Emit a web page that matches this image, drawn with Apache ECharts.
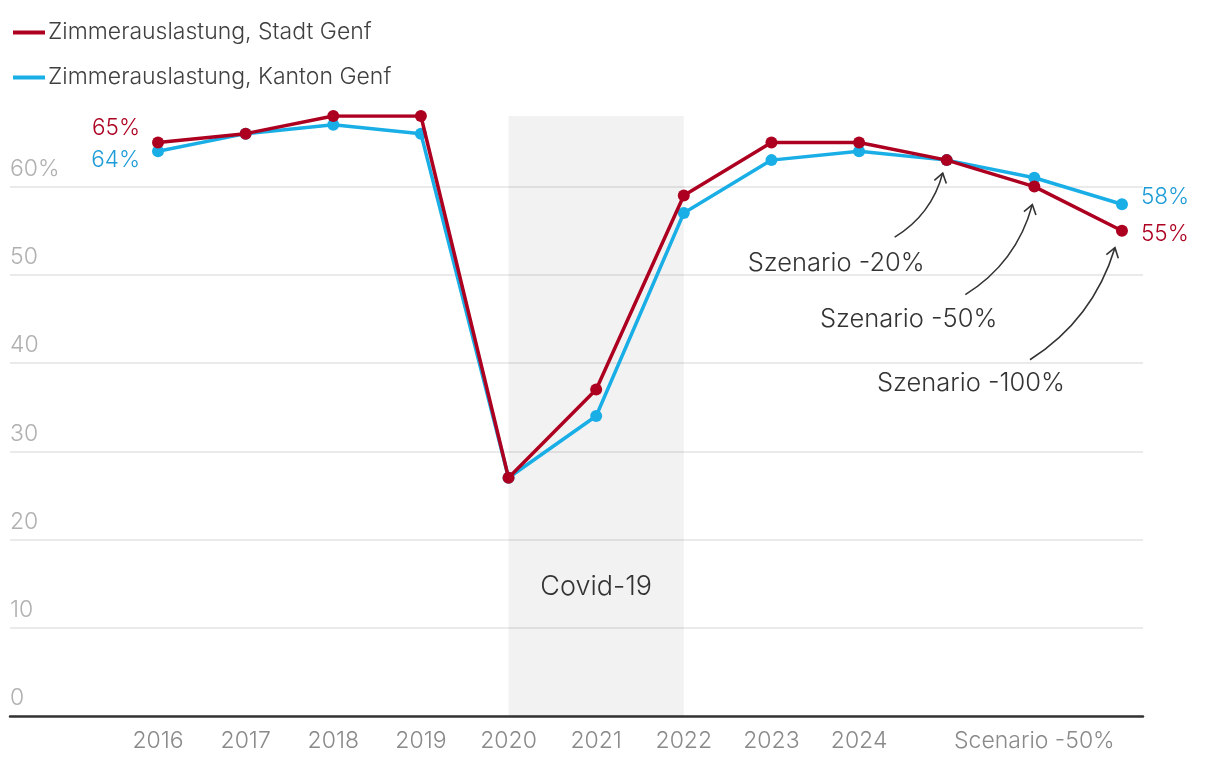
<!DOCTYPE html>
<html><head><meta charset="utf-8">
<script src="https://cdn.jsdelivr.net/npm/echarts@6/dist/echarts.min.js"></script>
<style>html,body{margin:0;padding:0;background:#fff}#c{width:1220px;height:768px}</style>
</head><body><div id="c"></div>
<script>
// ---- data ----
const categories = ['2016','2017','2018','2019','2020','2021','2022','2023','2024','Szenario -20%','Szenario -50%','Szenario -100%'];
const tickLabels = ['2016','2017','2018','2019','2020','2021','2022','2023','2024','','Scenario -50%',''];
const stadt  = [65,66,68,68,27,37,59,65,65,63,60,55];
const kanton = [64,66,67,66,27,34,57,63,64,63,61,58];
const yTicks = [0,10,20,30,40,50,60];
const seriesNames = ['Zimmerauslastung, Stadt Genf','Zimmerauslastung, Kanton Genf'];
const covidFrom = '2020', covidTo = '2022', covidLabel = 'Covid-19';
const noteCats = ['Szenario -20%','Szenario -50%','Szenario -100%'];
const noteTexts = ['Szenario -20%','Szenario -50%','Szenario -100%'];

// ---- layout / style ----
const RED = '#AD0021', BLUE = '#19AEE6', BLUE_TXT = '#1E9CD8';
const FONT = 'Inter, Roboto, "Noto Sans", sans-serif';
const FW = 300;
const xMin = -1.689, xMax = 11.24, yMax = 68;
const noteLayout = [
  {end:[-4,13], start:[-52,77], text:[-22,103], bow:16},
  {end:[-2,18], start:[-69,108], text:[-37,133], bow:22},
  {end:[-7,17], start:[-92,129], text:[-57,153], bow:26}
];

const idx = c => categories.indexOf(c);
const chart = echarts.init(document.getElementById('c'), null, {renderer:'canvas'});

function pts(arr){ return arr.map((v,i)=>[i,v]); }
const stadtData = pts(stadt).map((p,i)=>{
  if(i===0) return {value:p, label:{show:true, position:'left', distance:12, offset:[0,-14], color:RED}};
  if(i===stadt.length-1) return {value:p, label:{show:true, position:'right', distance:13, offset:[0,4], color:RED}};
  return p;
});
const kantonData = pts(kanton).map((p,i)=>{
  if(i===0) return {value:p, label:{show:true, position:'left', distance:12, offset:[0,9], color:BLUE_TXT}};
  if(i===kanton.length-1) return {value:p, label:{show:true, position:'right', distance:13, offset:[0,-7], color:BLUE_TXT}};
  return p;
});
const lblFmt = p => p.value[1] + '%';

chart.setOption({
  animation:false,
  textStyle:{fontFamily:FONT, fontWeight:FW},
  legend:{
    orient:'vertical', left:8, top:16, itemGap:22, itemWidth:32, itemHeight:4,
    icon:'rect', data:[seriesNames[0], seriesNames[1]],
    textStyle:{fontSize:23, color:'#404040', fontFamily:FONT, fontWeight:FW, padding:[0,0,0,-2]}
  },
  grid:{left:10, right:77, top:116, bottom:52, containLabel:false},
  xAxis:{
    type:'value', min:xMin, max:xMax,
    axisLine:{show:true, onZero:false, lineStyle:{color:'#333', width:2.5}},
    axisTick:{show:false}, splitLine:{show:false},
    axisLabel:{customValues:categories.map((c,i)=>i), formatter:v=>tickLabels[Math.round(v)]||'',
      fontSize:23, color:'#8a8a8a', margin:14, fontFamily:FONT, fontWeight:FW}
  },
  yAxis:{
    type:'value', min:0, max:yMax, interval:10,
    axisLine:{show:false}, axisTick:{show:false},
    splitLine:{show:true, showMaxLine:false, lineStyle:{color:'#e3e3e3', width:1.5}},
    axisLabel:{inside:true, margin:0, verticalAlign:'bottom', padding:[0,0,6,0], showMaxLabel:false,
      formatter:v=> yTicks.indexOf(v)<0 ? '' : (v===60 ? v+'%' : ''+v),
      fontSize:23, color:'#b0b0b0', fontFamily:FONT, fontWeight:FW}
  },
  series:[
    {name:seriesNames[1], type:'line', data:kantonData, color:BLUE, z:2,
     symbol:'circle', symbolSize:12, lineStyle:{width:3.5, color:BLUE}, itemStyle:{color:BLUE},
     label:{show:false, formatter:lblFmt, fontSize:22.5, fontFamily:FONT, fontWeight:FW}
    },
    {name:seriesNames[0], type:'line', data:stadtData, color:RED, z:3,
     symbol:'circle', symbolSize:12, lineStyle:{width:3.5, color:RED}, itemStyle:{color:RED},
     label:{show:false, formatter:lblFmt, fontSize:22.5, fontFamily:FONT, fontWeight:FW},
     markArea:{silent:true, itemStyle:{color:'rgba(0,0,0,0.05)'},
       label:{show:true, position:'insideBottom', distance:116, color:'#333', fontSize:27, fontFamily:FONT, fontWeight:FW},
       data:[[{name:covidLabel, xAxis:idx(covidFrom), yAxis:0},{xAxis:idx(covidTo), yAxis:yMax}]]
     }
    }
  ]
});

// annotations with curved arrows, anchored to data points
const graphics = [];
noteCats.forEach((c,k)=>{
  const i = idx(c);
  const P = chart.convertToPixel({gridIndex:0}, [i, stadt[i]]);
  const L = noteLayout[k];
  const s = [P[0]+L.start[0], P[1]+L.start[1]];
  const e = [P[0]+L.end[0], P[1]+L.end[1]];
  const dx = e[0]-s[0], dy = e[1]-s[1], len = Math.hypot(dx,dy);
  let px = -dy/len, py = dx/len; if(px<0){px=-px;py=-py;}
  const cp = [(s[0]+e[0])/2 + px*L.bow, (s[1]+e[1])/2 + py*L.bow];
  graphics.push({type:'bezierCurve', shape:{x1:s[0],y1:s[1],x2:e[0],y2:e[1],cpx1:cp[0],cpy1:cp[1]},
    style:{stroke:'#333', lineWidth:1.6, fill:null}, z:10});
  const tx = e[0]-cp[0], ty = e[1]-cp[1], tl = Math.hypot(tx,ty);
  const ux = tx/tl, uy = ty/tl, hl = 11, ang = 0.6;
  const h1 = [e[0] - hl*(ux*Math.cos(ang) - uy*Math.sin(ang)), e[1] - hl*(uy*Math.cos(ang) + ux*Math.sin(ang))];
  const h2 = [e[0] - hl*(ux*Math.cos(-ang) - uy*Math.sin(-ang)), e[1] - hl*(uy*Math.cos(-ang) + ux*Math.sin(-ang))];
  graphics.push({type:'polyline', shape:{points:[h1,e,h2]}, style:{stroke:'#333', lineWidth:1.6, fill:null}, z:10});
  graphics.push({type:'text', x:P[0]+L.text[0], y:P[1]+L.text[1], z:10,
    style:{text:noteTexts[k], fill:'#333', fontSize:25.5, fontFamily:FONT, fontWeight:FW, align:'right', verticalAlign:'middle'}});
});
chart.setOption({graphic:graphics});
</script></body></html>
